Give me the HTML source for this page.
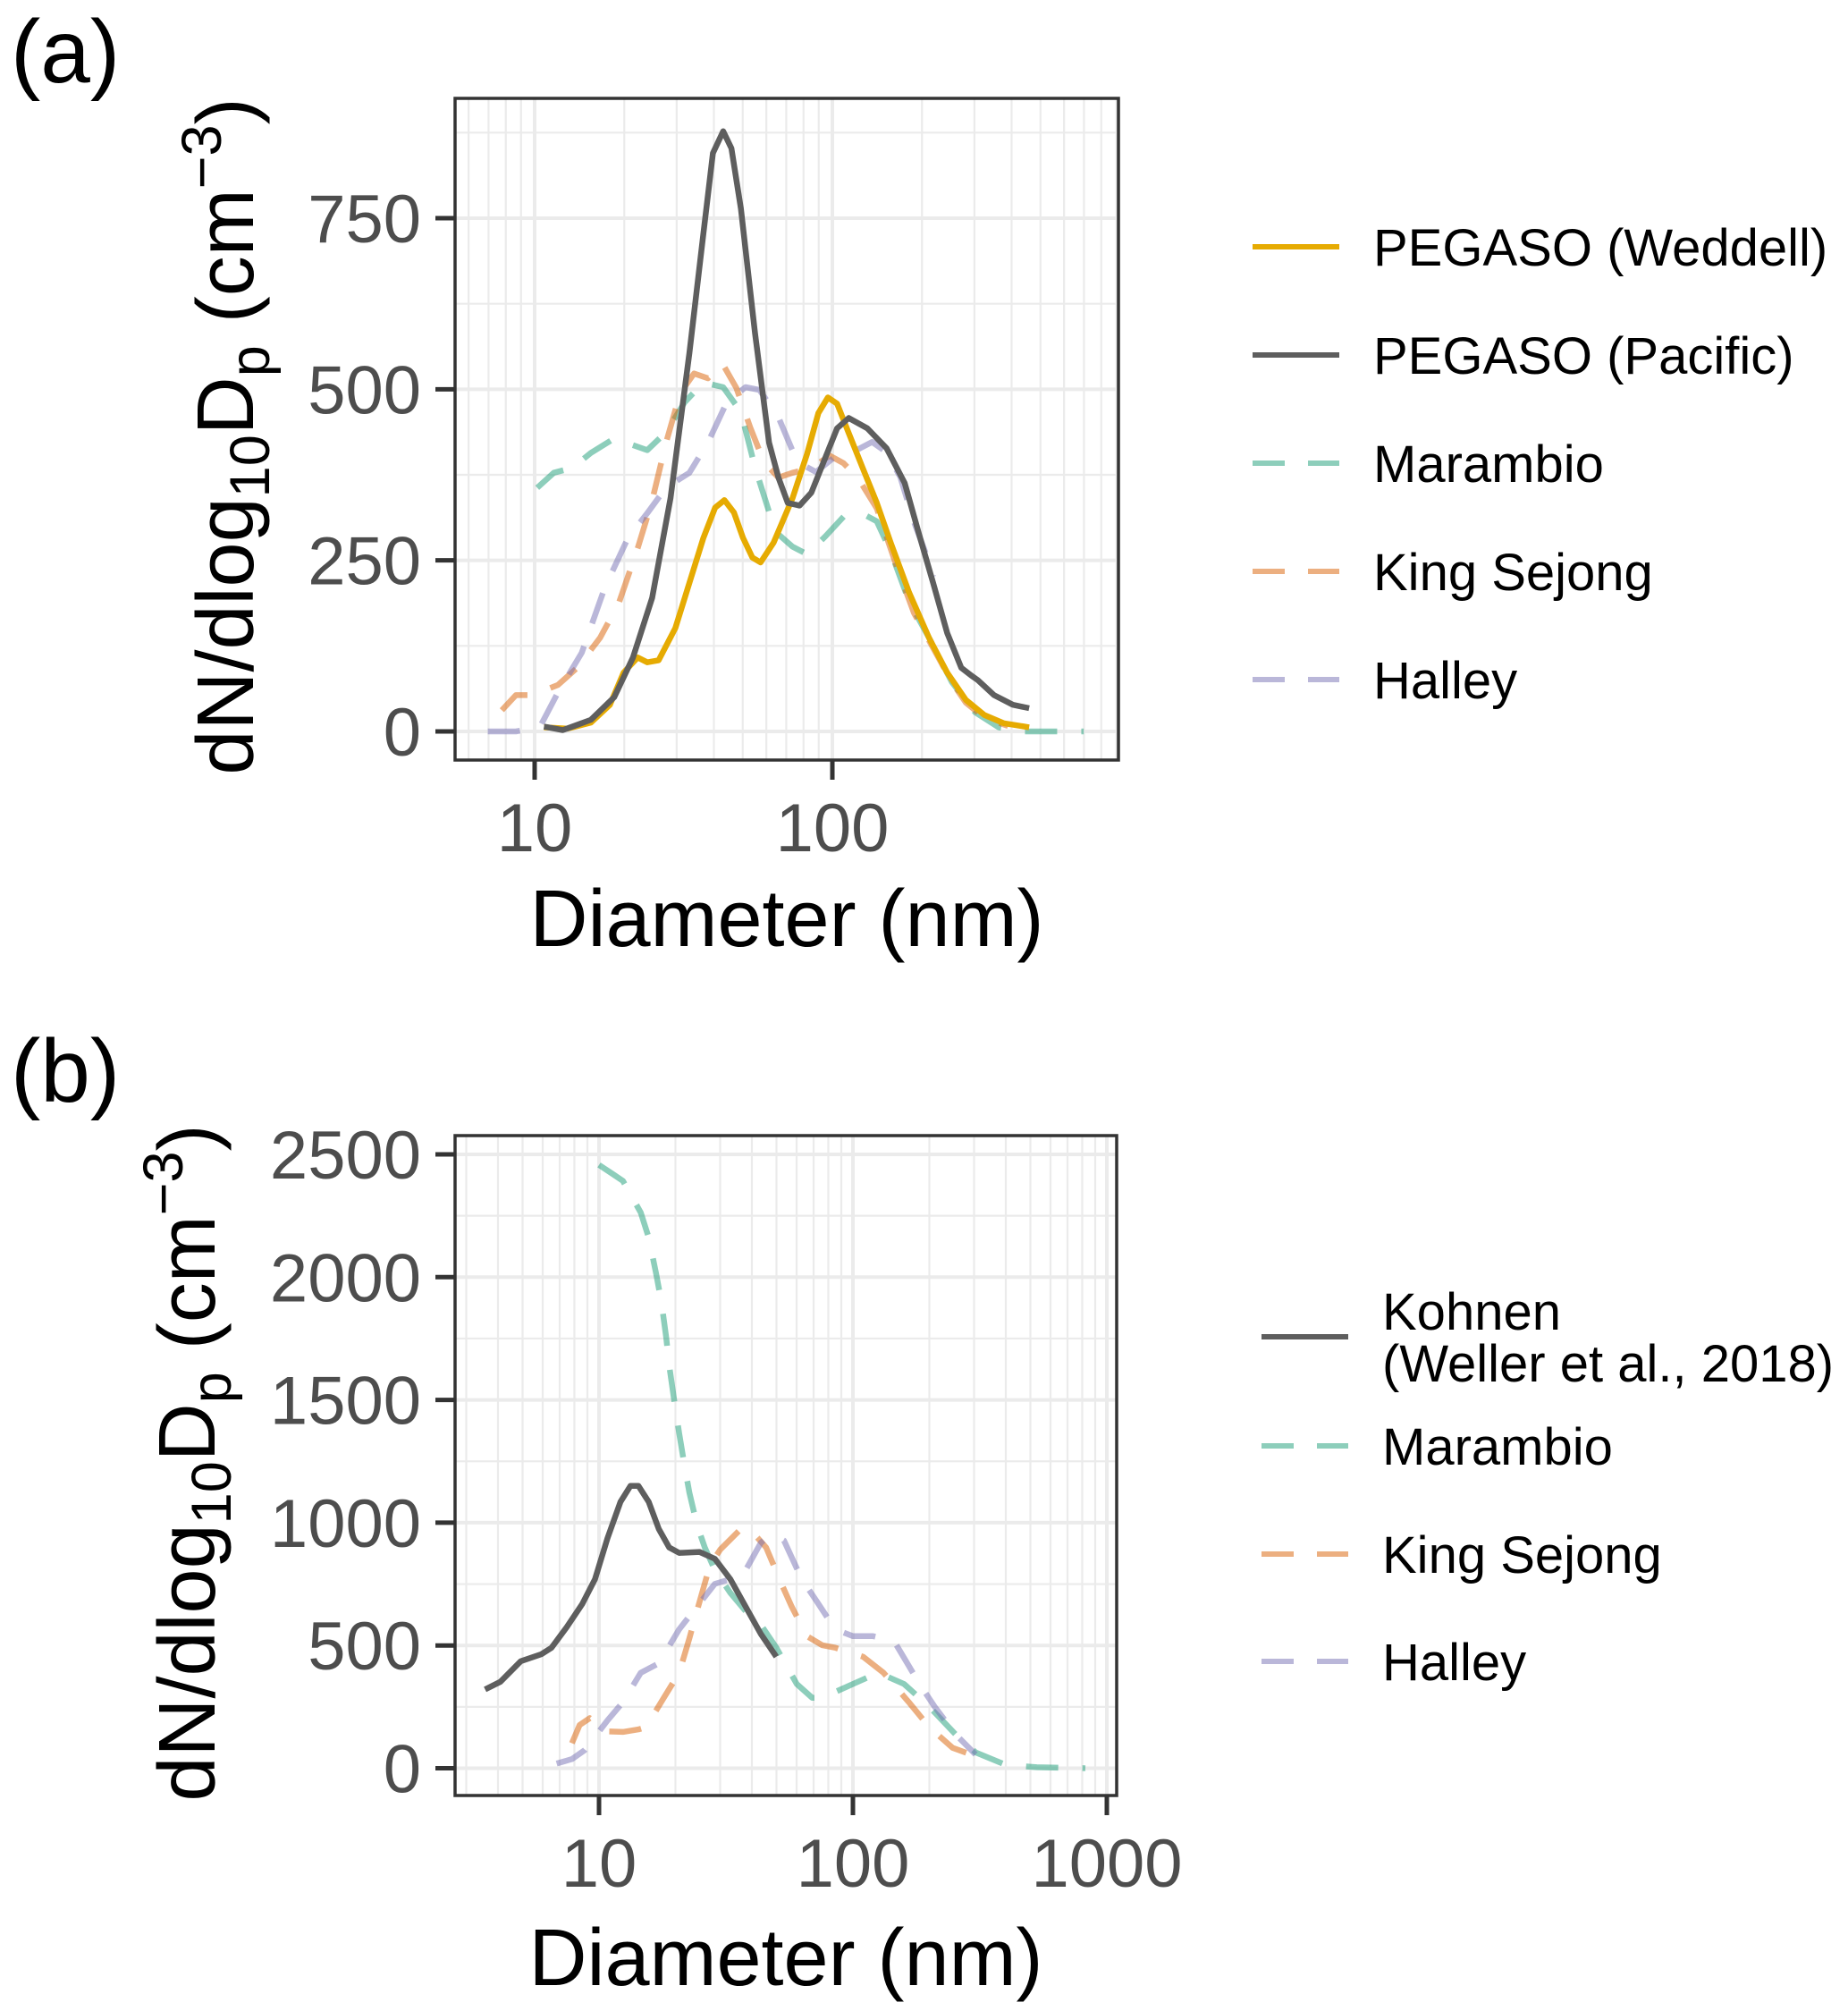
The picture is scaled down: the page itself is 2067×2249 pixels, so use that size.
<!DOCTYPE html>
<html><head><meta charset="utf-8">
<style>
html,body{margin:0;padding:0;background:#fff;}
svg{display:block;font-family:"Liberation Sans",Arial,sans-serif;}
</style></head>
<body>
<svg id="fig" width="2067" height="2249" viewBox="0 0 2067 2249" xmlns="http://www.w3.org/2000/svg">
<text x="12" y="92" font-size="100" fill="#000">(a)</text>
<text x="12" y="1232" font-size="100" fill="#000">(b)</text>
<g id="panelA"></g>
<g id="panelB"></g>
<g id="legendA"></g>
<g id="legendB"></g>
</svg>
<script>
// ---------- Panel (a) data ----------
const aWeddellD = [10.75,12.9,15.45,17.9,19.9,22.2,23.9,26.1,29.7,33.1,36.9,40.4,43.4,46.7,50.1,53.9,57.4,63.5,73.5,82.3,89.7,96.6,103.7,113.5,126.4,141,157,181,211,243,281,324,376,458];
const aWeddellN = [6,4,13,39,86,108,101,104,151,217,283,327,338,320,283,254,247,276,341,406,465,488,479,436,385,334,276,203,137,86,46,24,12,6];
const aPacificD = [10.75,12.43,15.45,18.5,21.4,24.8,28.6,33.1,36.9,39.7,43.0,45.8,49.3,55.0,61.3,65.9,70.8,77.6,85.0,94.7,103.7,113.5,131,152,175,195,218,243,271,292,308,349,404,458];
const aPacificN = [7,2,17,50,108,195,341,553,728,845,877,852,764,582,422,371,334,330,349,400,443,458,443,414,363,290,217,144,93,82,75,53,39,34];
const aMarambioD = [10.2,11.6,13.4,15.45,18.5,23.9,27.6,31.9,36.9,43.0,49.3,55.0,61.3,65.9,73.5,82.3,94.7,109.2,126.4,141,157,181,211,252,302,362,436,699];
const aMarambioN = [356,378,385,407,428,411,437,481,510,503,467,386,321,288,270,259,285,314,318,307,263,190,137,72,28,6,0,0];
const aKingD = [7.76,8.65,9.64,10.75,11.98,13.9,16.6,19.2,22.2,24.7,27.6,30.8,34.3,38.2,42.7,47.6,53.0,59.0,65.9,73.5,85.0,98,109,122,141,163,188,218,252,281,324,389];
const aKingN = [31,53,53,60,68,93,137,188,268,334,421,494,523,516,538,502,444,393,371,378,385,403,392,370,326,246,173,122,72,42,20,8];
const aHalleyD = [6.96,8.65,10.4,11.98,14.4,17.2,20.6,23.9,27.6,33.1,38.2,44.2,51.1,56.9,65.9,76.2,88.1,101.7,117,136,152,169,188,211,218];
const aHalleyN = [0,0,6,57,115,210,283,319,356,378,422,481,503,499,459,394,379,401,408,423,408,372,306,248,226];
const aYTicks = [0,250,500,750];
const aXTicks = [10,100];

// ---------- Panel (b) data ----------
const bKohnenD = [3.56,4.09,4.92,5.92,6.50,7.47,8.58,9.64,10.8,12.15,13.3,14.3,15.7,17.2,18.9,20.7,24.9,28.6,32.9,37.8,43.4,49.9];
const bKohnenN = [321,352,436,464,491,575,668,770,937,1085,1150,1150,1085,974,899,877,881,853,770,658,547,454];
const bMarambioD = [10,11.33,12.43,14.6,15.7,16.8,17.6,18.4,18.9,19.8,20.7,21.7,22.7,24.3,26.1,28.6,32.9,37.8,43.4,49.9,60.1,69.1,75.7,100,126,159,200,253,304,401,530,823];
const bMarambioN = [2457,2420,2392,2263,2161,2012,1901,1753,1641,1493,1363,1233,1122,992,899,807,714,640,584,491,343,287,287,343,389,343,250,139,65,13,4,0];
const bKingD = [7.82,8.39,9.2,10.6,12.43,14.3,15.3,18.0,20.7,22.7,24.3,27.3,30.0,36.9,41.5,45.5,52.3,57.4,65.9,75.7,85.1,109.7,132,166,200,247,311];
const bKingN = [102,176,204,150,148,158,167,287,389,529,640,825,890,983,946,899,751,658,538,501,491,454,389,269,167,83,46];
const bHalleyD = [6.81,7.82,8.79,10.8,12.43,14.6,17.2,20.7,24.3,28.6,32.9,37.8,43.4,47.6,53.5,62.9,72.3,85.1,100,120,145,166,183,210,253,304];
const bHalleyN = [19,37,74,195,269,389,427,566,658,751,770,807,918,955,927,770,677,566,538,538,519,417,343,250,139,56];
const bYTicks = [0,500,1000,1500,2000,2500];
const bXTicks = [10,100,1000];

const NS = "http://www.w3.org/2000/svg";
const COL = {weddell:"#E6AB02", pacific:"#5e5e5e", marambio:"rgba(27,158,119,0.5)", king:"rgba(217,95,2,0.5)", halley:"rgba(117,112,179,0.5)"};
function mk(parent, tag, attrs){const e=document.createElementNS(NS,tag);for(const k in attrs)e.setAttribute(k,attrs[k]);parent.appendChild(e);return e;}

function drawPanel(g, cfg){
  const xs = d => cfg.x0 + (Math.log10(d) - cfg.lx0)*cfg.dec;
  const ys = v => cfg.y0 - v*cfg.ppu;
  const decStart=Math.floor(cfg.lmin), decEnd=Math.ceil(cfg.lmax);
  for(let e=decStart;e<=decEnd;e++){
    for(let m=1;m<10;m++){
      const d=m*Math.pow(10,e), x=xs(d);
      if(x<cfg.L||x>cfg.R) continue;
      const ln=mk(g,"line",{x1:x,x2:x,y1:cfg.T,y2:cfg.B,stroke:"#ebebeb","stroke-width":m===1?4:2.2});
      
      
    }
  }
  const step=cfg.yTicks[1]-cfg.yTicks[0];
  for(let v=-step/2; ; v+=step/2){
    const y=ys(v); if(y<cfg.T) break; if(y>cfg.B) continue;
    const major=Math.abs(v/step-Math.round(v/step))<1e-6;
    const ln=mk(g,"line",{x1:cfg.L,x2:cfg.R,y1:y,y2:y,stroke:"#ebebeb","stroke-width":major?4:2.2});
    
    
  }
  const clip = "clip"+cfg.id;
  const cp=mk(g,"clipPath",{id:clip}); mk(cp,"rect",{x:cfg.L,y:cfg.T,width:cfg.R-cfg.L,height:cfg.B-cfg.T});
  cfg.series.forEach(s=>{
    const pts=s.d.map((d,i)=>xs(d).toFixed(1)+","+ys(s.n[i]).toFixed(1)).join(" ");
    const p=mk(g,"polyline",{points:pts,fill:"none",stroke:s.c,"stroke-width":6.5,"stroke-linejoin":"round","clip-path":"url(#"+clip+")"});
    if(s.dash) p.setAttribute("stroke-dasharray","36 27");
    
    
  });
  const bd=mk(g,"rect",{x:cfg.L,y:cfg.T,width:cfg.R-cfg.L,height:cfg.B-cfg.T,fill:"none",stroke:"#333","stroke-width":3.5});
  
  
  cfg.yTicks.forEach(v=>{
    const y=ys(v);
    mk(g,"line",{x1:cfg.L-22,x2:cfg.L,y1:y,y2:y,stroke:"#333","stroke-width":5});
    const t=mk(g,"text",{x:cfg.L-38,y:y+27,"text-anchor":"end","font-size":76,fill:"#4d4d4d"});
    t.textContent=v;
    
    
  });
  cfg.xTicks.forEach(v=>{
    const x=xs(v);
    mk(g,"line",{x1:x,x2:x,y1:cfg.B,y2:cfg.B+22,stroke:"#333","stroke-width":5});
    const t=mk(g,"text",{x:x,y:cfg.B+102,"text-anchor":"middle","font-size":76,fill:"#4d4d4d"});
    t.textContent=v;
    
    
  });
  const xt=mk(g,"text",{x:(cfg.L+cfg.R)/2,y:cfg.xtY,"text-anchor":"middle","font-size":90,fill:"#000"});
  xt.textContent="Diameter (nm)";
  
  
  const yt=mk(g,"text",{transform:"translate("+cfg.ytX+","+cfg.ytY+") rotate(-90)","text-anchor":"middle","font-size":90,fill:"#000"});
  yt.innerHTML='dN/dlog<tspan font-size="63" dy="18">10</tspan><tspan dy="-18">D</tspan><tspan font-size="63" dy="18">p</tspan><tspan dy="-18"> (cm</tspan><tspan font-size="63" dy="-36">−3</tspan><tspan dy="36">)</tspan>';
  
  
}

drawPanel(document.getElementById("panelA"),{
  id:"A", L:509,R:1251,T:110,B:850, x0:598, lx0:1, dec:333, lmin:0.73, lmax:2.97,
  y0:818, ppu:574/750, yTicks:aYTicks, xTicks:aXTicks, xtY:1058, ytX:283, ytY:488,
  series:[
    {name:"marambio-line",d:aMarambioD,n:aMarambioN,c:COL.marambio,dash:true},
    {name:"king-sejong-line",d:aKingD,n:aKingN,c:COL.king,dash:true},
    {name:"halley-line",d:aHalleyD,n:aHalleyN,c:COL.halley,dash:true},
    {name:"pegaso-weddell-line",d:aWeddellD,n:aWeddellN,c:COL.weddell,dash:false},
    {name:"pegaso-pacific-line",d:aPacificD,n:aPacificN,c:COL.pacific,dash:false}
  ]});
drawPanel(document.getElementById("panelB"),{
  id:"B", L:509,R:1249,T:1270,B:2008, x0:670, lx0:1, dec:284, lmin:0.43, lmax:3.03,
  y0:1977.5, ppu:686.5/2500, yTicks:bYTicks, xTicks:bXTicks, xtY:2220, ytX:240, ytY:1636,
  series:[
    {name:"marambio-line",d:bMarambioD,n:bMarambioN,c:COL.marambio,dash:true},
    {name:"king-sejong-line",d:bKingD,n:bKingN,c:COL.king,dash:true},
    {name:"halley-line",d:bHalleyD,n:bHalleyN,c:COL.halley,dash:true},
    {name:"kohnen-line",d:bKohnenD,n:bKohnenN,c:COL.pacific,dash:false}
  ]});

function legend(g, items, x1, x2, tx){
  items.forEach(it=>{
    const ln=mk(g,"line",{x1:x1,x2:x2,y1:it.y,y2:it.y,stroke:it.c,"stroke-width":6});
    if(it.dash) ln.setAttribute("stroke-dasharray","36 26");
    
    
    it.lines.forEach((s,k)=>{
      const t=mk(g,"text",{x:tx,y:it.ty+k*58,"font-size":58,fill:"#000"});
      t.textContent=s;
      
      
    });
  });
}
legend(document.getElementById("legendA"),[
  {y:276,ty:297,c:COL.weddell,lines:["PEGASO (Weddell)"]},
  {y:397,ty:418,c:COL.pacific,lines:["PEGASO (Pacific)"]},
  {y:518,ty:539,c:COL.marambio,dash:true,lines:["Marambio"]},
  {y:639,ty:660,c:COL.king,dash:true,lines:["King Sejong"]},
  {y:760,ty:781,c:COL.halley,dash:true,lines:["Halley"]}
],1401,1498,1536);
legend(document.getElementById("legendB"),[
  {y:1495,ty:1487,c:COL.pacific,lines:["Kohnen","(Weller et al., 2018)"]},
  {y:1617,ty:1638,c:COL.marambio,dash:true,lines:["Marambio"]},
  {y:1738,ty:1759,c:COL.king,dash:true,lines:["King Sejong"]},
  {y:1858,ty:1879,c:COL.halley,dash:true,lines:["Halley"]}
],1411,1508,1546);
</script>
</body></html>
